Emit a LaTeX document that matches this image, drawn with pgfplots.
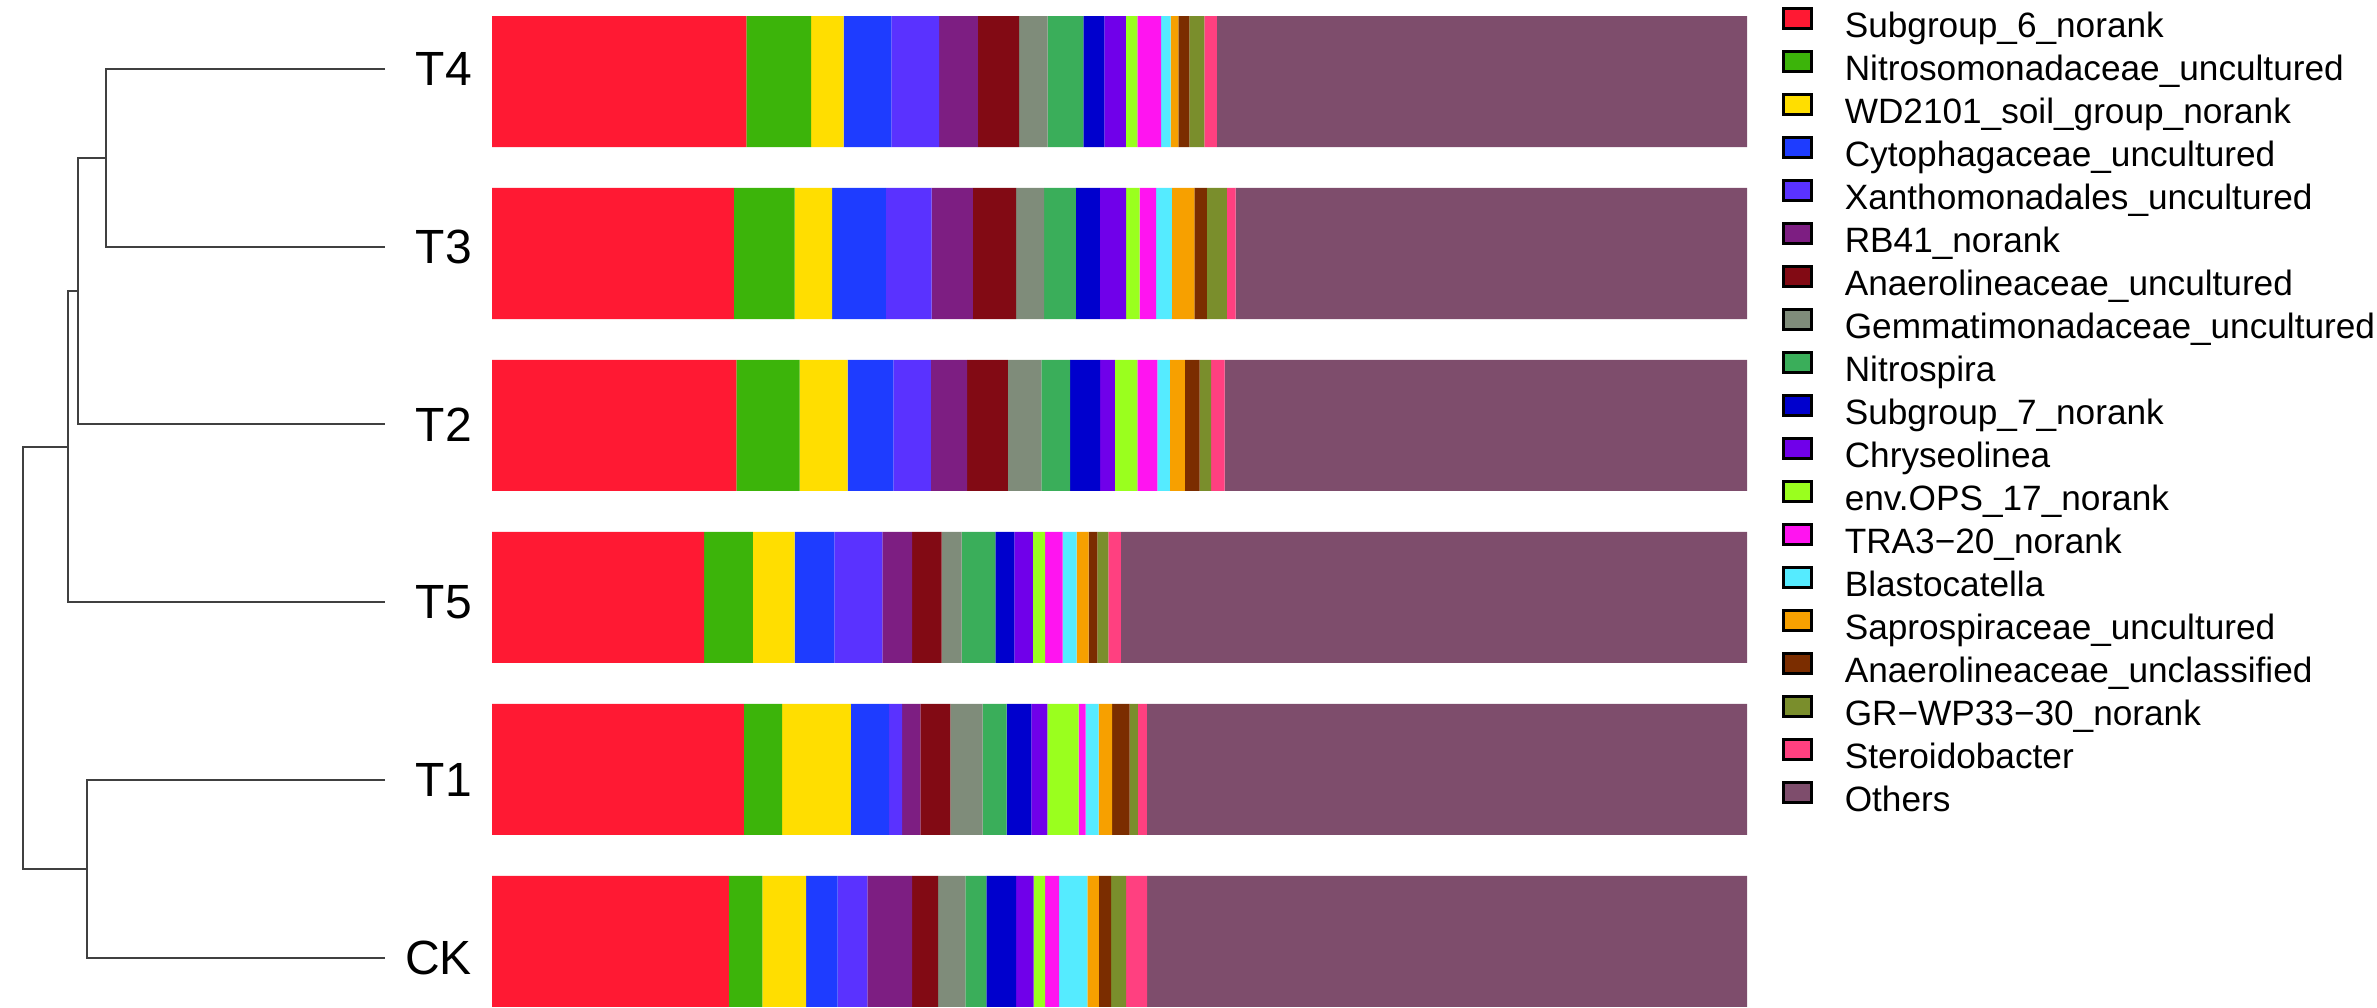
\documentclass[border=0pt]{standalone}
\usepackage{pgfplots}
\pgfplotsset{compat=1.18}
\usepackage{pgfplotstable}
\usepackage{fontspec}
\setmainfont{Liberation Sans}

\definecolor{c1}{HTML}{FF1933}
\definecolor{c2}{HTML}{3CB40A}
\definecolor{c3}{HTML}{FFDE00}
\definecolor{c4}{HTML}{1E3CFF}
\definecolor{c5}{HTML}{5A32FF}
\definecolor{c6}{HTML}{7D1E82}
\definecolor{c7}{HTML}{820A14}
\definecolor{c8}{HTML}{7F8C7A}
\definecolor{c9}{HTML}{3AAE5A}
\definecolor{c10}{HTML}{0000CD}
\definecolor{c11}{HTML}{7000EA}
\definecolor{c12}{HTML}{9AFF1E}
\definecolor{c13}{HTML}{FF14F0}
\definecolor{c14}{HTML}{55EBFF}
\definecolor{c15}{HTML}{F7A000}
\definecolor{c16}{HTML}{7B2D00}
\definecolor{c17}{HTML}{7A8E2C}
\definecolor{c18}{HTML}{FF4080}
\definecolor{c19}{HTML}{7E4D6C}
\definecolor{dendro}{HTML}{404040}

% rows: CK, T1, T5, T2, T3, T4
\pgfplotstableread{
y  s1    s2   s3   s4   s5   s6   s7   s8   s9   s10  s11  s12  s13  s14  s15  s16  s17  s18  s19
0  18.88 2.66 3.49 2.50 2.38 3.57 2.06 2.18 1.67 2.38 1.39 0.91 1.11 2.26 0.91 0.99 1.19 1.67 47.80
1  20.07 3.05 5.47 3.05 1.03 1.47 2.38 2.58 1.90 1.98 1.27 2.50 0.56 1.03 1.07 1.39 0.67 0.71 47.82
2  16.90 3.89 3.33 3.17 3.81 2.38 2.34 1.59 2.70 1.51 1.47 0.99 1.39 1.11 0.95 0.71 0.87 0.99 49.90
3  19.48 5.04 3.81 3.65 2.98 2.90 3.25 2.66 2.30 2.38 1.19 1.79 1.59 0.99 1.19 1.19 0.91 1.07 41.63
4  19.28 4.84 2.98 4.28 3.65 3.29 3.45 2.22 2.54 1.90 2.10 1.07 1.31 1.27 1.79 0.99 1.59 0.71 40.74
5  20.27 5.16 2.58 3.81 3.81 3.09 3.29 2.26 2.86 1.67 1.71 0.91 1.90 0.75 0.63 0.87 1.19 0.99 42.25
}\bardata

\begin{document}
\begin{tikzpicture}
\useasboundingbox (0,0) rectangle (594.25pt,251.75pt);
% dendrogram
\begin{axis}[
  at={(0pt,0pt)}, anchor=south west,
  scale only axis, width=123pt, height=251.75pt,
  xmin=0, xmax=492, ymin=-0.381, ymax=5.474,
  hide axis, clip=false,
]
\addplot[dendro, line width=0.5pt] coordinates {(385,5.073) (106,5.073) (106,4.040) (385,4.040)};
\addplot[dendro, line width=0.5pt] coordinates {(106,4.557) (78,4.557) (78,3.006) (385,3.006)};
\addplot[dendro, line width=0.5pt] coordinates {(78,3.781) (68,3.781) (68,1.972) (385,1.972)};
\addplot[dendro, line width=0.5pt] coordinates {(68,2.877) (23,2.877) (23,0.421) (87,0.421)};
\addplot[dendro, line width=0.5pt] coordinates {(385,0.938) (87,0.938) (87,-0.096) (385,-0.096)};
\end{axis}
% bars
\begin{axis}[
  at={(123pt,0pt)}, anchor=south west,
  scale only axis, width=313.75pt, height=251.75pt,
  xmin=0, xmax=100, ymin=-0.381, ymax=5.474,
  xbar stacked, bar width=32.75pt,
  axis line style={draw=none},
  xtick=\empty,
  ytick={-0.096,0.938,1.972,3.006,4.040,5.073},
  yticklabels={CK,T1,T5,T2,T3,T4},
  major tick length=0pt,
  yticklabel style={font=\fontsize{12}{14}\selectfont, xshift=-1.5pt},
  every axis plot post/.append style={legend image code/.code={\draw[#1,draw=black,line width=0.7pt] (0pt,0pt) rectangle (7pt,5pt);}},
  legend cell align=left,
  legend style={draw=none, fill=none, inner sep=0pt, outer sep=0pt,
    at={(rel axis cs:1,1)}, anchor=north west, xshift=8.75pt, yshift=-1.75pt,
    font=\fontsize{8.8}{10}\selectfont, row sep=1.15pt, column sep=8pt,
    nodes={inner sep=0pt, text height=6.5pt, text depth=2pt}},
]
\addplot[fill=c1, draw=none] table[x=s1, y=y] {\bardata};
\addplot[fill=c2, draw=none] table[x=s2, y=y] {\bardata};
\addplot[fill=c3, draw=none] table[x=s3, y=y] {\bardata};
\addplot[fill=c4, draw=none] table[x=s4, y=y] {\bardata};
\addplot[fill=c5, draw=none] table[x=s5, y=y] {\bardata};
\addplot[fill=c6, draw=none] table[x=s6, y=y] {\bardata};
\addplot[fill=c7, draw=none] table[x=s7, y=y] {\bardata};
\addplot[fill=c8, draw=none] table[x=s8, y=y] {\bardata};
\addplot[fill=c9, draw=none] table[x=s9, y=y] {\bardata};
\addplot[fill=c10, draw=none] table[x=s10, y=y] {\bardata};
\addplot[fill=c11, draw=none] table[x=s11, y=y] {\bardata};
\addplot[fill=c12, draw=none] table[x=s12, y=y] {\bardata};
\addplot[fill=c13, draw=none] table[x=s13, y=y] {\bardata};
\addplot[fill=c14, draw=none] table[x=s14, y=y] {\bardata};
\addplot[fill=c15, draw=none] table[x=s15, y=y] {\bardata};
\addplot[fill=c16, draw=none] table[x=s16, y=y] {\bardata};
\addplot[fill=c17, draw=none] table[x=s17, y=y] {\bardata};
\addplot[fill=c18, draw=none] table[x=s18, y=y] {\bardata};
\addplot[fill=c19, draw=none] table[x=s19, y=y] {\bardata};
\legend{Subgroup\_6\_norank, Nitrosomonadaceae\_uncultured, WD2101\_soil\_group\_norank, Cytophagaceae\_uncultured, Xanthomonadales\_uncultured, RB41\_norank, Anaerolineaceae\_uncultured, Gemmatimonadaceae\_uncultured, Nitrospira, Subgroup\_7\_norank, Chryseolinea, env.OPS\_17\_norank, TRA3−20\_norank, Blastocatella, Saprospiraceae\_uncultured, Anaerolineaceae\_unclassified, GR−WP33−30\_norank, Steroidobacter, Others}
\end{axis}
\end{tikzpicture}
\end{document}
